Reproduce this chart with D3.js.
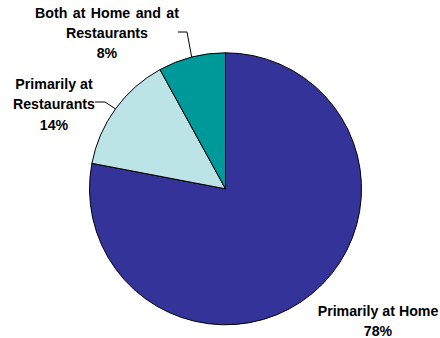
<!DOCTYPE html>
<html>
<head>
<meta charset="utf-8">
<script src="https://cdn.jsdelivr.net/npm/d3@7"></script>
<style>
  html, body { margin: 0; padding: 0; background: #fff; }
  svg { display: block; }
  text { font-family: "Liberation Sans", Arial, sans-serif; font-weight: bold; font-size: 14.2px; fill: #000; }
</style>
</head>
<body>
<svg id="chart" width="440" height="338"></svg>
<script>
// Where people eat, share of respondents
const categories = ["Primarily at Home", "Primarily at Restaurants", "Both at Home and at Restaurants"];
const values = [78, 14, 8];
const colors = ["#333399", "#BCE3E6", "#009999"];

// Label text lines for each slice (category wrapped + percentage)
const labelLines = [
  ["Primarily at Home", "78%"],
  ["Primarily at", "Restaurants", "14%"],
  ["Both at Home and at", "Restaurants", "8%"]
];
// Label anchor (centre x, first baseline y) and leader elbow for each slice
const labelPos = [[378, 316], [54, 89], [107, 17.5]];
const wordGap = [0, 0, 1.5];
const leaderStart = [null, [95, 102], [178, 32]];
const leaderElbow = [null, [105, 102], [187, 32]];

const width = 440, height = 338;
const cx = 225.5, cy = 188.8, radius = 136;
const lineGap = 20.3;

const svg = d3.select("#chart");
const g = svg.append("g").attr("transform", `translate(${cx},${cy})`);

const pie = d3.pie().sort(null).value(d => d)(values);
const arc = d3.arc().innerRadius(0).outerRadius(radius);

g.selectAll("path.slice")
  .data(pie)
  .join("path")
  .attr("class", "slice")
  .attr("d", arc)
  .attr("fill", (d, i) => colors[i])
  .attr("stroke", "#000")
  .attr("stroke-width", 1)
  .attr("stroke-linejoin", "round");

// Leader lines from label to the slice edge at its mid-angle
pie.forEach((d, i) => {
  if (!leaderStart[i]) return;
  const mid = (d.startAngle + d.endAngle) / 2;
  const ex = cx + radius * Math.sin(mid);
  const ey = cy - radius * Math.cos(mid);
  const pts = [leaderStart[i], leaderElbow[i], [ex, ey]];
  svg.append("path")
    .attr("d", d3.line()(pts))
    .attr("fill", "none")
    .attr("stroke", "#000")
    .attr("stroke-width", 1);
});

// Labels
labelLines.forEach((lines, i) => {
  const t = svg.append("text")
    .attr("text-anchor", "middle")
    .attr("word-spacing", wordGap[i])
    .attr("x", labelPos[i][0])
    .attr("y", labelPos[i][1]);
  lines.forEach((s, k) => {
    t.append("tspan")
      .attr("x", labelPos[i][0])
      .attr("dy", k === 0 ? 0 : lineGap)
      .text(s);
  });
});
</script>
</body>
</html>
